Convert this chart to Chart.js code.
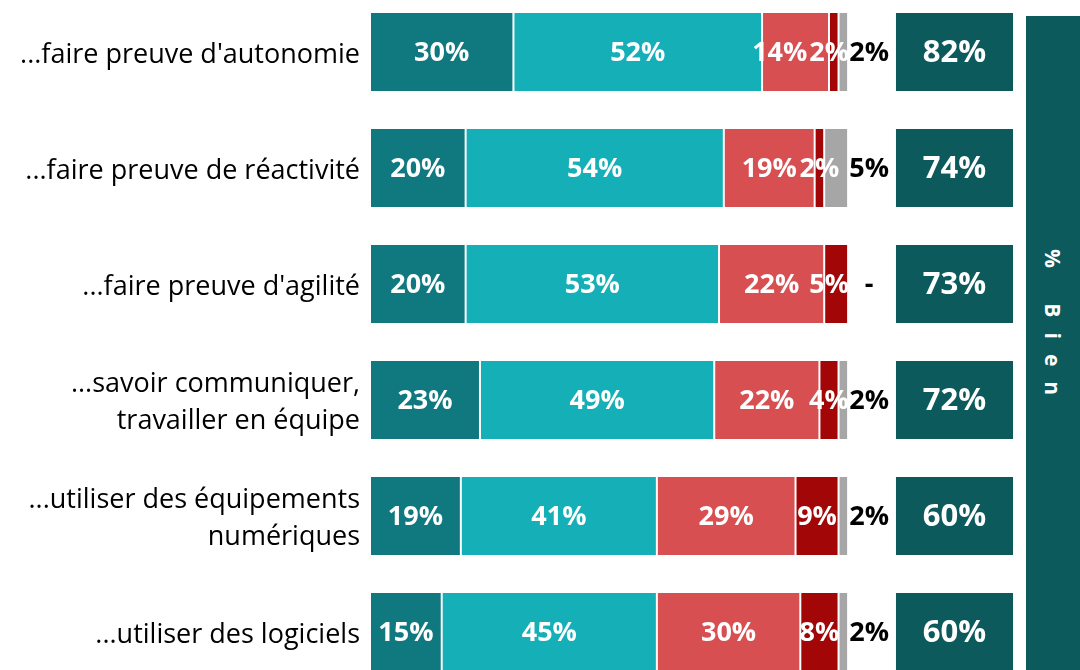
<!DOCTYPE html>
<html>
<head>
<meta charset="utf-8">
<script src="https://cdn.jsdelivr.net/npm/chart.js@4"></script>
<style>
  html, body { margin: 0; padding: 0; background: #fff; overflow: hidden; }
  body { width: 1080px; height: 670px; position: relative; }
  #chartBox { position: absolute; left: 0; top: -6px; width: 1080px; height: 696px; }
  #banner {
    position: absolute; left: 1026px; top: 16px; width: 54px; height: 660px;
    background: #0c5a5c; color: #fff;
    display: flex; align-items: center; justify-content: center;
  }
  #banner span {
    writing-mode: vertical-rl;
    font: bold 21px "Open Sans", sans-serif;
    letter-spacing: 15px;
    margin-top: -32px;
  }
</style>
</head>
<body>
<div id="chartBox"><canvas id="chart"></canvas></div>
<div id="banner"><span>% Bien</span></div>
<script>
const categories = [
  "...faire preuve d'autonomie",
  "...faire preuve de réactivité",
  "...faire preuve d'agilité",
  ["...savoir communiquer,", "travailler en équipe"],
  ["...utiliser des équipements", "numériques"],
  "...utiliser des logiciels"
];
const tresBien = [30, 20, 20, 23, 19, 15];
const plutotBien = [52, 54, 53, 49, 41, 45];
const plutotMal = [14, 19, 22, 22, 29, 30];
const tresMal = [2, 2, 5, 4, 9, 8];
const nsp = [2, 5, 0, 2, 2, 2];
const totalBien = [82, 74, 73, 72, 60, 60];

const series = [tresBien, plutotBien, plutotMal, tresMal, nsp];
const colors = ["#10787f", "#14afb7", "#d84f51", "#a20607", "#a6a6a6"];
const fontFamily = "'Open Sans', sans-serif";

// box column sits to the right of the 100% bars
const boxRange = [109.8, 134.7];

// segments are drawn as floating bars from the running total
const datasets = series.map((values, s) => ({
  data: values.map((v, i) => {
    let start = 0;
    for (let k = 0; k < s; k++) start += series[k][i];
    return [start, start + v];
  }),
  backgroundColor: colors[s],
  borderColor: "rgba(255,255,255,0.45)",
  borderWidth: 1,
  borderSkipped: false
}));

datasets.push({
  data: totalBien.map(() => boxRange),
  backgroundColor: "#0c5a5c",
  borderColor: "rgba(255,255,255,0.45)",
  borderWidth: 1,
  borderSkipped: false
});

const valueLabels = {
  id: "valueLabels",
  afterDatasetsDraw(chart) {
    const ctx = chart.ctx;
    const xs = chart.scales.x;
    ctx.save();
    ctx.textBaseline = "middle";
    ctx.textAlign = "center";
    categories.forEach((cat, i) => {
      const y = chart.getDatasetMeta(0).data[i].y;
      const top = y - 40, h = 80;
      const barStart = xs.getPixelForValue(0);
      const barEnd = xs.getPixelForValue(100);

      // white labels inside the first four segments, pushed left when they collide
      ctx.font = "bold 27px " + fontFamily;
      const labels = [];
      let cum = 0;
      for (let s = 0; s < 4; s++) {
        const v = series[s][i];
        const x0 = xs.getPixelForValue(cum);
        const x1 = xs.getPixelForValue(cum + v);
        cum += v;
        const text = v + "%";
        const w = ctx.measureText(text).width;
        labels.push({ text, w, cx: (x0 + x1) / 2 });
      }
      let bound = barEnd + 1;
      for (let s = labels.length - 1; s >= 0; s--) {
        const lb = labels[s];
        if (lb.cx + lb.w / 2 > bound) lb.cx = bound - lb.w / 2;
        bound = lb.cx - lb.w / 2 - 2;
      }
      ctx.save();
      ctx.beginPath();
      ctx.rect(barStart, top, barEnd - barStart, h);
      ctx.clip();
      ctx.fillStyle = "#fff";
      labels.forEach(lb => ctx.fillText(lb.text, lb.cx, y + 1));
      ctx.restore();

      // last segment value goes to the right of the bar
      ctx.fillStyle = "#000";
      ctx.fillText(nsp[i] ? nsp[i] + "%" : "-", barEnd + 21, y + 1);

      // total in the box
      ctx.fillStyle = "#fff";
      ctx.font = "bold 31px " + fontFamily;
      const bx = (xs.getPixelForValue(boxRange[0]) + xs.getPixelForValue(boxRange[1])) / 2;
      ctx.fillText(totalBien[i] + "%", bx, y + 1);
    });
    ctx.restore();
  }
};

new Chart(document.getElementById("chart"), {
  type: "bar",
  data: { labels: categories, datasets: datasets },
  options: {
    indexAxis: "y",
    responsive: true,
    maintainAspectRatio: false,
    animation: false,
    grouped: false,
    categoryPercentage: 80 / 116,
    barPercentage: 1,
    layout: { padding: 0 },
    plugins: { legend: { display: false }, tooltip: { enabled: false } },
    scales: {
      x: { display: false, min: 0, max: 148.5 },
      y: {
        grid: { display: false },
        border: { display: false },
        afterFit(scale) {
          scale.width = 370;
          scale.paddingTop = 0;
          scale.paddingBottom = 0;
        },
        ticks: {
          color: "#000",
          padding: 2,
          labelOffset: 3,
          font: { family: fontFamily, size: 27, lineHeight: 1.37 }
        }
      }
    }
  },
  plugins: [valueLabels]
});
</script>
</body>
</html>
